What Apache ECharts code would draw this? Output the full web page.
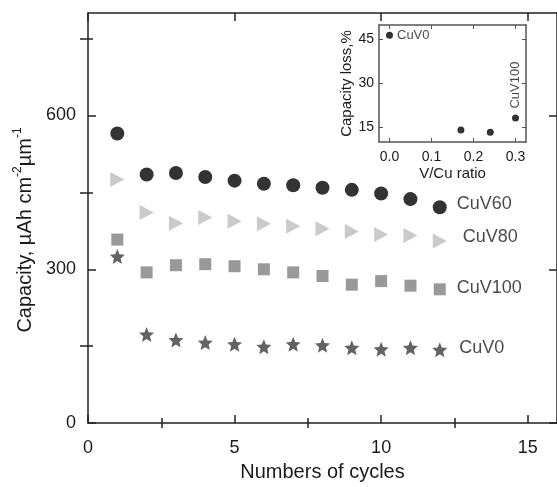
<!DOCTYPE html>
<html>
<head>
<meta charset="utf-8">
<script src="https://cdn.jsdelivr.net/npm/echarts@6/dist/echarts.min.js"></script>
<style>
  html, body { margin: 0; padding: 0; background: #fff; }
  #chart { width: 557px; height: 487px; }
</style>
</head>
<body>
<div id="chart"></div>
<script>
// Discharge capacity per cycle for each electrode composition
const cycles = [1, 2, 3, 4, 5, 6, 7, 8, 9, 10, 11, 12];
const cuv60  = [565, 485, 488, 480, 473, 467, 464, 459, 455, 448, 437, 421];
const cuv80  = [475, 411, 390, 401, 394, 389, 384, 379, 374, 368, 366, 355];
const cuv100 = [358, 294, 308, 310, 306, 300, 294, 287, 270, 277, 268, 261];
const cuv0   = [325, 173, 162, 157, 154, 149, 154, 152, 147, 144, 147, 143];

// Inset: capacity loss against V/Cu ratio
const ratio = [0, 0.17, 0.24, 0.30];
const loss = [46.5, 14.1, 13.3, 18.2];
const lossTags = ['CuV0', '', '', 'CuV100'];

// Tick positions
const xMajor = [0, 5, 10, 15];
const xMinor = [2.5, 7.5, 12.5];
const yMajor = [0, 300, 600];
const yMinor = [150, 450, 750];
const insetXTicks = [0, 0.1, 0.2, 0.3];
const insetYTicks = [15, 30, 45];

const FONT = '"Liberation Sans", Arial, Helvetica, sans-serif';
const INK = '#1a1a1a';

// five-pointed star with a fairly fat body
const star = 'path://M10,0L12.645,6.36L19.511,6.91L14.28,11.39L15.878,18.09L10,14.5L4.122,18.09L5.72,11.39L0.489,6.91L7.355,6.36Z';
const rightTri = 'path://M0,0L10,5L0,10Z';

function mainAxisX(extra) {
  return Object.assign({
    type: 'value', gridIndex: 0, min: 0, max: 16,
    splitLine: { show: false },
    axisLine: { show: false },
    axisTick: { show: false },
    axisLabel: { show: false }
  }, extra);
}
function mainAxisY(extra) {
  return Object.assign({
    type: 'value', gridIndex: 0, min: 0, max: 800,
    splitLine: { show: false },
    axisLine: { show: false },
    axisTick: { show: false },
    axisLabel: { show: false }
  }, extra);
}
const lineStyle = { color: '#222', width: 1.5 };
const tickMajor = (vals) => ({ show: true, inside: true, length: 8, customValues: vals, lineStyle: { color: '#222', width: 1.5 } });
const tickMinor = (vals) => ({ show: true, inside: true, length: 5, customValues: vals, lineStyle: { color: '#222', width: 1.5 } });

function capacitySeries(name, values, symbol, size, color, dist, dy) {
  const last = values.length - 1;
  return {
    name: name, type: 'scatter', xAxisIndex: 0, yAxisIndex: 0,
    symbol: symbol, symbolSize: size,
    itemStyle: { color: color },
    data: cycles.map((c, i) => [c, values[i]]),
    label: {
      show: true, position: 'right', distance: dist, offset: [0, dy],
      fontFamily: FONT, fontSize: 18, color: INK,
      formatter: (p) => (p.dataIndex === last ? name : '')
    },
    z: 3
  };
}

const chart = echarts.init(document.getElementById('chart'), null, { renderer: 'canvas' });

chart.setOption({
  animation: false,
  backgroundColor: '#fff',
  grid: [
    { left: 88, top: 13, width: 474, height: 415 },
    { left: 379, top: 25, width: 147, height: 117, backgroundColor: '#fff', show: true, borderWidth: 0 }
  ],
  xAxis: [
    mainAxisX({
      position: 'bottom',
      axisLine: { show: true, onZero: false, lineStyle: lineStyle },
      axisTick: tickMajor(xMajor),
      axisLabel: { show: true, customValues: xMajor, margin: 16, fontFamily: FONT, fontSize: 18, color: INK },
      name: 'Numbers of cycles', nameLocation: 'middle', nameGap: 37,
      nameTextStyle: { fontFamily: FONT, fontSize: 20, color: INK }
    }),
    mainAxisX({ position: 'bottom', axisTick: tickMinor(xMinor) }),
    mainAxisX({ position: 'top', axisLine: { show: true, onZero: false, lineStyle: lineStyle }, axisTick: tickMajor(xMajor) }),
    mainAxisX({ position: 'top', axisTick: tickMinor(xMinor) }),
    {
      type: 'value', gridIndex: 1, min: -0.025, max: 0.325, position: 'bottom',
      splitLine: { show: false },
      axisLine: { show: true, onZero: false, lineStyle: { color: '#555', width: 1.5 } },
      axisTick: { show: true, inside: true, length: 4, customValues: insetXTicks, lineStyle: { color: '#555' } },
      axisLabel: { show: true, customValues: insetXTicks, margin: 8, fontFamily: FONT, fontSize: 14, color: INK, formatter: (v) => v.toFixed(1) },
      name: 'V/Cu ratio', nameLocation: 'middle', nameGap: 24,
      nameTextStyle: { fontFamily: FONT, fontSize: 15, color: INK }
    },
    {
      type: 'value', gridIndex: 1, min: -0.025, max: 0.325, position: 'top',
      splitLine: { show: false },
      axisLine: { show: true, onZero: false, lineStyle: { color: '#555', width: 1.5 } },
      axisTick: { show: true, inside: true, length: 4, customValues: insetXTicks, lineStyle: { color: '#555' } },
      axisLabel: { show: false }
    }
  ],
  yAxis: [
    mainAxisY({
      position: 'left',
      axisLine: { show: true, onZero: false, lineStyle: lineStyle },
      axisTick: tickMajor(yMajor),
      axisLabel: { show: true, customValues: yMajor, margin: 12, fontFamily: FONT, fontSize: 18, color: INK }
    }),
    mainAxisY({ position: 'left', axisTick: tickMinor(yMinor) }),
    mainAxisY({ position: 'right', axisLine: { show: true, onZero: false, lineStyle: lineStyle }, axisTick: tickMajor(yMajor) }),
    mainAxisY({ position: 'right', axisTick: tickMajor(yMinor) }),
    {
      type: 'value', gridIndex: 1, min: 10, max: 50, position: 'left',
      splitLine: { show: false },
      axisLine: { show: true, onZero: false, lineStyle: { color: '#555', width: 1.5 } },
      axisTick: { show: true, inside: true, length: 4, customValues: insetYTicks, lineStyle: { color: '#555' } },
      axisLabel: { show: true, customValues: insetYTicks, margin: 5, fontFamily: FONT, fontSize: 14, color: INK },
      name: 'Capacity loss,%', nameLocation: 'middle', nameGap: 24,
      nameTextStyle: { fontFamily: FONT, fontSize: 15, color: INK }
    },
    {
      type: 'value', gridIndex: 1, min: 10, max: 50, position: 'right',
      splitLine: { show: false },
      axisLine: { show: true, onZero: false, lineStyle: { color: '#555', width: 1.5 } },
      axisTick: { show: true, inside: true, length: 4, customValues: insetYTicks, lineStyle: { color: '#555' } },
      axisLabel: { show: false }
    }
  ],
  series: [
    capacitySeries('CuV60', cuv60, 'circle', 14, '#000000', 10, -3),
    capacitySeries('CuV80', cuv80, rightTri, [14, 15], '#bdbdbd', 16, -4),
    capacitySeries('CuV100', cuv100, 'rect', 12, '#7f7f7f', 11, -1),
    capacitySeries('CuV0', cuv0, star, 15, '#3c3c3c', 12, -2),
    {
      name: 'loss', type: 'scatter', xAxisIndex: 4, yAxisIndex: 4,
      symbol: 'circle', symbolSize: 7,
      itemStyle: { color: '#000' },
      data: ratio.map((r, i) => ({
        value: [r, loss[i]],
        label: i === 3
          ? { show: true, position: 'top', distance: 6, rotate: 90, align: 'left', verticalAlign: 'middle' }
          : { show: lossTags[i] !== '', position: 'right', distance: 4 }
      })),
      label: {
        fontFamily: FONT, fontSize: 13, color: INK,
        formatter: (p) => lossTags[p.dataIndex]
      },
      z: 5
    }
  ],
  graphic: [
    {
      type: 'text', x: 25, y: 230, rotation: Math.PI / 2,
      style: {
        text: '{b|Capacity, \u00b5Ah cm}{s|-2}{b|\u00b5m}{s|-1}',
        align: 'center', verticalAlign: 'middle',
        fill: INK,
        rich: {
          b: { fontFamily: FONT, fontSize: 20, lineHeight: 26, fill: INK },
          s: { fontFamily: FONT, fontSize: 12, lineHeight: 14, verticalAlign: 'top', fill: INK }
        }
      }
    }
  ]
});
</script>
</body>
</html>
